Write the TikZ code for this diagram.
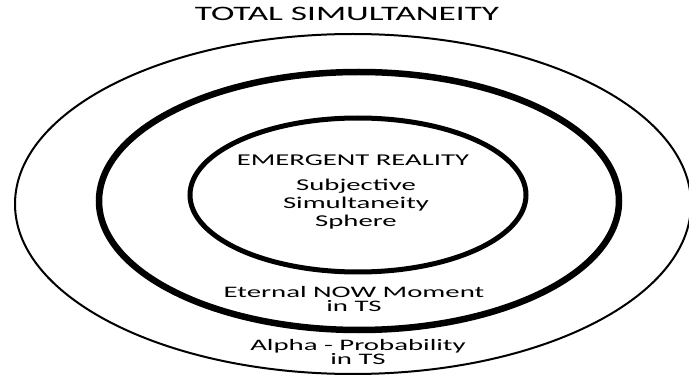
\documentclass[tikz,border=0pt]{standalone}
\usepackage{fontspec}
\setmainfont{Carlito}
\usepackage{tikz}
\usetikzlibrary{positioning}

\begin{document}
\begin{tikzpicture}[
  x=1pt,y=-1pt,
  ring/.style={draw=black},
  titlelbl/.style={font=\fontsize{20.5}{22}\selectfont,xscale=1.72,inner sep=0pt},
  innerlbl/.style={font=\fontsize{16.5}{18}\selectfont,xscale=1.74,align=center,inner sep=0pt},
  bandlbl/.style={font=\fontsize{16}{14.5}\selectfont,xscale=1.8,align=center,inner sep=0pt}
]
\useasboundingbox (0,0) rectangle (689,377);

% three nested spheres
\coordinate (co) at (353,204);
\coordinate (cm) at (359,201);
\coordinate (ci) at (358,195);
\draw[ring,line width=2pt] (co) ellipse [x radius=338,y radius=170];
\draw[ring,line width=6.5pt] (cm) ellipse [x radius=260,y radius=129];
\draw[ring,line width=5pt] (ci) ellipse [x radius=168,y radius=77];

% TOP: outer label
\node[titlelbl] (total) at (347,14) {TOTAL SIMULTANEITY};

% INNER: emergent reality
\node[innerlbl] (emerg) at (353,160) {EMERGENT REALITY};
\node[innerlbl] (subj) at (356,204) {Subjective\\Simultaneity\\Sphere};

% BANDS: middle and outer ring labels
\node[bandlbl] (now) at (354,299) {Eternal NOW Moment\\in TS};
\node[bandlbl] (alpha) at (358,352) {Alpha - Probability\\in TS};
\end{tikzpicture}
\end{document}
